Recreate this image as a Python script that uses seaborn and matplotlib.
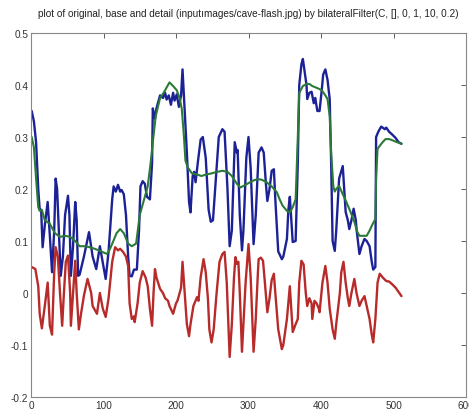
import matplotlib
matplotlib.use("Agg")
import matplotlib.pyplot as plt
import seaborn as sns
import pandas as pd

title_text = "plot of original, base and detail (input\u0131mages/cave-flash.jpg) by bilateralFilter(C, [], 0, 1, 10, 0.2)"

orig_x = [1, 4, 7, 10, 12, 14, 16, 19, 23, 26, 29, 32, 34, 36, 39, 41, 44, 47, 51, 53,
          55, 58, 61, 63, 65, 67, 73, 80, 85, 90, 95, 103, 107, 112, 114, 117, 120, 123, 125, 128,
          131, 134, 136, 139, 142, 146, 149, 151, 154, 157, 160, 164, 167, 168, 171, 173, 178, 182, 185, 187,
          190, 193, 196, 198, 201, 204, 207, 209, 212, 215, 218, 220, 223, 225, 227, 230, 234, 237, 241, 245,
          248, 251, 255, 259, 264, 267, 271, 274, 277, 281, 284, 285, 288, 291, 293, 297, 300, 303, 307, 310,
          314, 318, 321, 324, 326, 329, 332, 335, 337, 341, 346, 348, 353, 355, 357, 359, 361, 365, 368, 370,
          373, 375, 377, 380, 381, 384, 387, 390, 392, 395, 398, 401, 403, 406, 409, 412, 414, 416, 419, 421,
          425, 430, 432, 434, 437, 439, 442, 445, 448, 449, 453, 456, 460, 463, 467, 470, 472, 475, 476, 479,
          483, 488, 490, 494, 498, 503, 507, 511]
orig_y = [0.350, 0.330, 0.290, 0.200, 0.160, 0.160, 0.088, 0.130, 0.175, 0.110, 0.040, 0.120, 0.220, 0.200, 0.100, 0.033, 0.070, 0.150, 0.187, 0.150,
          0.033, 0.090, 0.175, 0.140, 0.033, 0.035, 0.070, 0.117, 0.070, 0.046, 0.090, 0.027, 0.080, 0.180, 0.205, 0.195, 0.208, 0.195, 0.198, 0.190,
          0.150, 0.070, 0.033, 0.032, 0.045, 0.045, 0.120, 0.205, 0.215, 0.210, 0.185, 0.180, 0.250, 0.355, 0.335, 0.355, 0.380, 0.375, 0.385, 0.372,
          0.380, 0.362, 0.385, 0.370, 0.382, 0.358, 0.380, 0.430, 0.350, 0.270, 0.175, 0.155, 0.225, 0.233, 0.213, 0.250, 0.295, 0.300, 0.260, 0.160,
          0.137, 0.140, 0.220, 0.300, 0.315, 0.310, 0.200, 0.090, 0.120, 0.290, 0.270, 0.275, 0.150, 0.082, 0.120, 0.260, 0.300, 0.240, 0.094, 0.150,
          0.270, 0.280, 0.270, 0.210, 0.177, 0.200, 0.235, 0.238, 0.180, 0.080, 0.065, 0.070, 0.104, 0.160, 0.185, 0.140, 0.098, 0.100, 0.250, 0.400,
          0.440, 0.450, 0.430, 0.400, 0.373, 0.385, 0.387, 0.365, 0.375, 0.350, 0.350, 0.390, 0.420, 0.430, 0.410, 0.373, 0.250, 0.100, 0.081, 0.120,
          0.220, 0.244, 0.200, 0.156, 0.140, 0.123, 0.140, 0.162, 0.140, 0.123, 0.075, 0.090, 0.104, 0.100, 0.090, 0.060, 0.045, 0.050, 0.300, 0.310,
          0.320, 0.315, 0.318, 0.310, 0.305, 0.298, 0.290, 0.287]

base_x = [1, 4, 7, 10, 12, 15, 19, 26, 33, 40, 47, 54, 61, 67, 74, 81, 88, 95, 105, 109,
          113, 118, 123, 128, 134, 139, 145, 150, 156, 161, 165, 168, 172, 178, 183, 187, 191, 196, 201, 205,
          208, 211, 213, 216, 222, 229, 235, 242, 249, 257, 264, 271, 277, 284, 289, 296, 302, 308, 313, 318,
          325, 332, 339, 343, 347, 353, 357, 361, 365, 368, 370, 375, 380, 384, 388, 395, 401, 406, 409, 412,
          414, 417, 419, 421, 425, 430, 435, 441, 446, 450, 453, 459, 463, 467, 471, 475, 476, 478, 481, 485,
          489, 494, 498, 503, 507, 511]
base_y = [0.300, 0.280, 0.220, 0.165, 0.158, 0.160, 0.140, 0.133, 0.115, 0.108, 0.110, 0.108, 0.100, 0.090, 0.090, 0.088, 0.085, 0.081, 0.075, 0.085,
          0.098, 0.115, 0.123, 0.115, 0.095, 0.090, 0.095, 0.150, 0.180, 0.205, 0.250, 0.290, 0.340, 0.375, 0.385, 0.395, 0.405, 0.398, 0.390, 0.375,
          0.354, 0.300, 0.255, 0.242, 0.230, 0.228, 0.225, 0.228, 0.230, 0.233, 0.235, 0.233, 0.225, 0.210, 0.203, 0.208, 0.213, 0.217, 0.219, 0.218,
          0.213, 0.205, 0.194, 0.180, 0.168, 0.158, 0.155, 0.165, 0.180, 0.300, 0.385, 0.398, 0.402, 0.402, 0.398, 0.394, 0.390, 0.380, 0.373, 0.340,
          0.270, 0.205, 0.195, 0.200, 0.206, 0.190, 0.175, 0.155, 0.137, 0.118, 0.110, 0.110, 0.110, 0.120, 0.132, 0.142, 0.220, 0.277, 0.283, 0.290,
          0.296, 0.296, 0.294, 0.291, 0.289, 0.287]

detail_x = [1, 6, 10, 12, 15, 19, 23, 26, 29, 32, 34, 37, 40, 43, 45, 48, 51, 54, 55, 58,
            61, 63, 66, 69, 73, 78, 83, 85, 91, 95, 99, 103, 107, 112, 116, 120, 123, 127, 131, 134,
            136, 139, 142, 143, 147, 150, 154, 158, 161, 164, 167, 169, 171, 173, 178, 182, 185, 189, 191, 196,
            200, 202, 207, 209, 212, 215, 218, 220, 224, 229, 231, 234, 238, 241, 244, 246, 249, 252, 256, 260,
            264, 267, 270, 273, 274, 277, 280, 282, 284, 286, 288, 291, 293, 296, 300, 303, 307, 310, 313, 314,
            317, 320, 322, 326, 329, 332, 335, 337, 341, 346, 348, 353, 357, 359, 361, 365, 368, 370, 373, 376,
            379, 381, 384, 387, 388, 391, 394, 397, 398, 402, 406, 409, 412, 416, 419, 421, 426, 428, 431, 434,
            437, 439, 442, 446, 449, 453, 456, 460, 463, 467, 470, 472, 475, 478, 481, 485, 490, 494, 498, 503,
            507, 511]
detail_y = [0.050, 0.046, 0.013, -0.040, -0.068, -0.025, 0.020, -0.063, -0.080, 0.040, 0.088, 0.070, 0.000, -0.063, -0.010, 0.060, 0.072, 0.000, -0.063, 0.000,
            0.062, 0.000, -0.070, -0.040, -0.005, 0.027, 0.000, -0.025, -0.040, 0.000, -0.030, -0.046, -0.010, 0.060, 0.088, 0.082, 0.085, 0.079, 0.070, 0.052,
            -0.020, -0.050, -0.045, -0.056, -0.020, 0.020, 0.042, 0.030, 0.013, -0.030, -0.063, 0.000, 0.046, 0.030, 0.008, 0.000, -0.010, -0.015, -0.025, -0.040,
            -0.020, -0.015, 0.010, 0.060, 0.000, -0.060, -0.083, -0.060, -0.025, -0.008, -0.015, 0.030, 0.065, 0.040, -0.010, -0.070, -0.095, -0.070, 0.000, 0.060,
            0.075, 0.079, 0.020, -0.090, -0.123, -0.060, 0.030, 0.069, 0.056, 0.060, 0.000, -0.113, -0.060, 0.020, 0.094, 0.030, -0.113, -0.050, 0.040, 0.065,
            0.068, 0.062, 0.030, -0.037, -0.010, 0.025, 0.037, 0.000, -0.070, -0.108, -0.100, -0.050, 0.013, -0.030, -0.075, -0.060, -0.050, 0.020, 0.062, 0.055,
            0.000, -0.025, -0.010, -0.020, -0.050, -0.015, -0.020, -0.030, -0.037, 0.020, 0.052, 0.020, -0.030, -0.070, -0.088, -0.060, 0.000, 0.040, 0.060, 0.020,
            -0.010, -0.025, 0.000, 0.027, 0.000, -0.025, -0.015, -0.006, -0.025, -0.050, -0.080, -0.095, -0.050, 0.020, 0.037, 0.030, 0.023, 0.022, 0.017, 0.010,
            0.002, -0.006]

x_ticks = [0, 100, 200, 300, 400, 500, 600]
y_ticks = [-0.2, -0.1, 0, 0.1, 0.2, 0.3, 0.4, 0.5]
x_tick_labels = ["0", "100", "200", "300", "400", "500", "600"]
y_tick_labels = ["-0.2", "-0.1", "0", "0.1", "0.2", "0.3", "0.4", "0.5"]

sns.set_theme(style="white")
plt.rcParams["font.family"] = ["Liberation Sans", "DejaVu Sans"]

fig = plt.figure(figsize=(4.69, 4.10), dpi=100)
ax = fig.add_axes([31 / 469, 1 - 398 / 410, 435 / 469, 364 / 410])

df_o = pd.DataFrame({"x": orig_x, "y": orig_y})
df_b = pd.DataFrame({"x": base_x, "y": base_y})
df_d = pd.DataFrame({"x": detail_x, "y": detail_y})

sns.lineplot(data=df_o, x="x", y="y", ax=ax, color="#1c2296", linewidth=1.7, sort=False)
sns.lineplot(data=df_b, x="x", y="y", ax=ax, color="#2b7a37", linewidth=1.5, sort=False)
sns.lineplot(data=df_d, x="x", y="y", ax=ax, color="#b82b2b", linewidth=1.7, sort=False)

ax.set_xlim(0, 600)
ax.set_ylim(-0.2, 0.5)
ax.set_xticks(x_ticks)
ax.set_xticklabels(x_tick_labels)
ax.set_yticks(y_ticks)
ax.set_yticklabels(y_tick_labels)
ax.set_xlabel("")
ax.set_ylabel("")
ax.tick_params(direction="in", length=3.5, width=0.6, colors="#444444",
               labelsize=7.2, top=True, right=True, labelcolor="#333333", pad=2)
for s in ax.spines.values():
    s.set_color("#888888")
    s.set_linewidth(0.8)
ax.set_title(title_text, fontsize=7.2, color="#222222", pad=12)

fig.savefig("out.png", dpi=100)
